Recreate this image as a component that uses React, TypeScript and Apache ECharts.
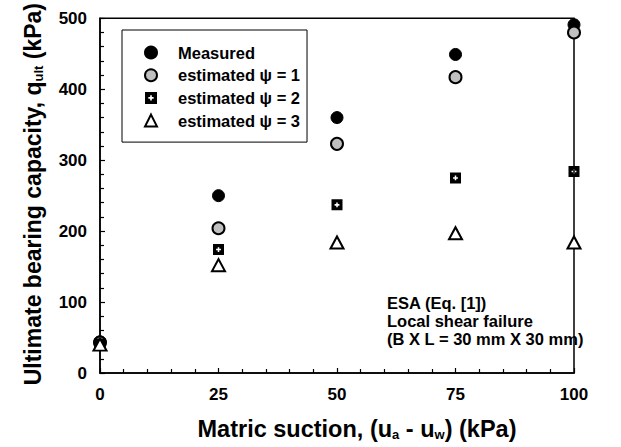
import React, { useEffect, useRef } from "react";
import * as echarts from "echarts";

const suction = [0, 25, 50, 75, 100];
const measured = [44, 250, 360, 449, 491];
const psi1 = [43, 204, 323, 417, 480];
const psi2 = [41, 174, 237, 275, 284];
const psi3 = [40, 152, 184, 197, 184];
const seriesNames = ["Measured", "estimated ψ = 1", "estimated ψ = 2", "estimated ψ = 3"];
const noteLines = ["ESA (Eq. [1])", "Local shear failure", "(B X L = 30 mm X 30 mm)"];

const FONT = "'Liberation Sans', Arial, Helvetica, sans-serif";
const plusSquare =
  "path://M0,0H10V10H0Z M4.3,2.8V4.3H2.8V5.7H4.3V7.2H5.7V5.7H7.2V4.3H5.7V2.8Z";

function pts(vals: number[]) {
  return suction.map((x, i) => [x, vals[i]]);
}

export default function App() {
  const ref = useRef<HTMLDivElement>(null);
  useEffect(() => {
    if (!ref.current) return;
    const chart = echarts.init(ref.current, null, { renderer: "svg" });
    const axisCommon = {
      axisLine: { show: true, lineStyle: { color: "#000", width: 1.5 } },
      axisTick: { show: true, inside: true, length: 5, lineStyle: { color: "#000", width: 1.2 } },
      minorTick: { show: true, splitNumber: 5, length: 4, lineStyle: { color: "#000", width: 1.2 } },
      splitLine: { show: false },
      nameLocation: "middle" as const,
    };
    const subStyle = (size: number, pad: number) => ({
      sub: { fontSize: size, fontWeight: "bold", fontFamily: FONT, color: "#000", padding: [pad, 0, 0, 0] },
    });
    chart.setOption({
      animation: false,
      backgroundColor: "#fff",
      textStyle: { fontFamily: FONT },
      grid: {
        left: 100,
        right: 47,
        top: 17,
        bottom: 74,
        show: true,
        borderColor: "#000",
        borderWidth: 1.5,
      },
      xAxis: {
        type: "value",
        min: 0,
        max: 100,
        interval: 25,
        ...axisCommon,
        axisLabel: { color: "#000", fontSize: 17, fontWeight: "bold", margin: 13, fontFamily: FONT },
        name: "Matric suction, (u{sub|a} - u{sub|w}) (kPa)",
        nameGap: 44,
        nameTextStyle: {
          color: "#000",
          fontSize: 23.5,
          fontWeight: "bold",
          fontFamily: FONT,
          padding: [0, 0, 0, 40],
          rich: subStyle(13, 11),
        },
      },
      yAxis: {
        type: "value",
        min: 0,
        max: 500,
        interval: 100,
        ...axisCommon,
        axisLabel: { color: "#000", fontSize: 17, fontWeight: "bold", margin: 13, fontFamily: FONT },
        name: "Ultimate bearing capacity, q{sub|ult} (kPa)",
        nameGap: 55,
        nameTextStyle: {
          color: "#000",
          fontSize: 23,
          fontWeight: "bold",
          fontFamily: FONT,
          padding: [0, 0, 0, 3],
          rich: subStyle(13, 11),
        },
      },
      legend: {
        orient: "vertical",
        left: 122,
        top: 30,
        padding: [14, 7, 13, 22],
        itemWidth: 12,
        itemHeight: 12,
        itemGap: 5.7,
        borderColor: "#000",
        borderWidth: 1,
        backgroundColor: "#fff",
        borderRadius: 0,
        selectedMode: false,
        data: seriesNames,
        textStyle: {
          color: "#000",
          fontSize: 16.5,
          fontWeight: "bold",
          fontFamily: FONT,
          lineHeight: 16,
          padding: [0, 0, 0, 16],
        },
      },
      graphic: [
        {
          type: "text",
          left: 387,
          top: 294,
          z: 10,
          style: {
            text: noteLines.join("\n"),
            font: `bold 16.5px ${FONT}`,
            lineHeight: 18,
            fill: "#000",
          },
        },
      ],
      series: [
        {
          name: seriesNames[0],
          type: "scatter",
          data: pts(measured),
          symbol: "circle",
          symbolSize: 12,
          itemStyle: { color: "#000", borderColor: "#000", borderWidth: 1, opacity: 1 },
          z: 3,
        },
        {
          name: seriesNames[1],
          type: "scatter",
          data: pts(psi1),
          symbol: "circle",
          symbolSize: 12,
          itemStyle: { color: "#c0c0c0", borderColor: "#000", borderWidth: 2, opacity: 1 },
          z: 4,
        },
        {
          name: seriesNames[2],
          type: "scatter",
          data: pts(psi2),
          symbol: plusSquare,
          symbolSize: 11,
          itemStyle: { color: "#000", opacity: 1 },
          z: 5,
        },
        {
          name: seriesNames[3],
          type: "scatter",
          data: pts(psi3),
          symbol: "triangle",
          symbolSize: [13, 12],
          itemStyle: { color: "#fff", borderColor: "#000", borderWidth: 2, opacity: 1 },
          z: 6,
        },
      ],
    });
    return () => chart.dispose();
  }, []);
  return <div ref={ref} style={{ width: 621, height: 447, position: "absolute", left: 0, top: 0 }} />;
}
